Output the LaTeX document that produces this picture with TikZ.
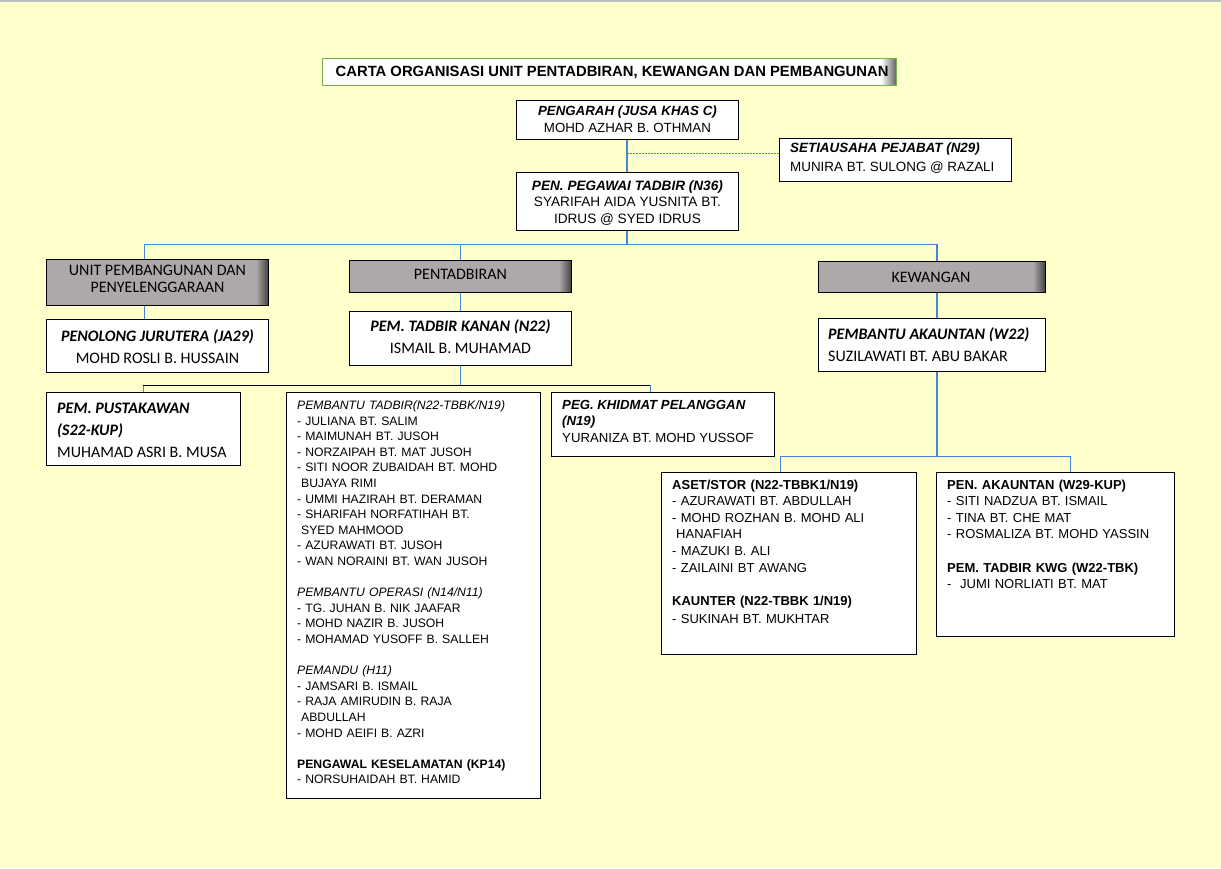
\documentclass[tikz,border=0pt]{standalone}
\usepackage{fontspec}
\setmainfont{Liberation Sans}
\newfontfamily\calibfont{Carlito}
\usetikzlibrary{calc}
\usetikzlibrary{positioning}

\definecolor{bgyellow}{RGB}{255,255,204}
\definecolor{linkblue}{RGB}{70,132,212}
\definecolor{unitgray}{RGB}{173,169,168}
\definecolor{titlegreen}{RGB}{118,178,72}

\tikzset{
 box/.style={draw=black, fill=white, line width=0.9pt, inner sep=0pt, anchor=north west},
 unitbox/.style={box, fill=unitgray,
   path picture={\foreach \i [evaluate=\i as \p using 100-\i*5] in {0,...,11}
     \fill[unitgray!\p!black] ([xshift=(\i-12)*1pt]path picture bounding box.north east)
       rectangle ([xshift=(\i-11)*1pt]path picture bounding box.south east);}},
 titlebox/.style={box, draw=titlegreen, line width=1.2pt,
   path picture={\foreach \i [evaluate=\i as \p using 100-\i*4] in {0,...,15}
     \fill[white!\p!black] ([xshift=(\i-16)*1pt]path picture bounding box.north east)
       rectangle ([xshift=(\i-15)*1pt]path picture bounding box.south east);}},
 link/.style={draw=linkblue, line width=1.2pt},
 dotlink/.style={draw=linkblue, line width=1pt, dash pattern=on 2pt off 1pt},
 bus/.style={draw=black, line width=1pt},
 txt/.style={inner sep=0pt, font=\fontsize{13.3}{17}\selectfont},
 caltxt/.style={inner sep=0pt, font=\calibfont\fontsize{16}{22}\selectfont},
}

\begin{document}
\begin{tikzpicture}[x=1pt, y=-1pt]
\useasboundingbox (0,0) rectangle (1221,868);
\fill[bgyellow] (0,0) rectangle (1221,868);
\draw[black!25, line width=1.5pt] (0,0.75) -- (1221,0.75);

% title
\node[titlebox, minimum width=574pt, minimum height=27pt] (title) at (322,58) {};
\node[txt, font=\bfseries\fontsize{14.8}{17}\selectfont] (titleT) at ([xshift=2.5pt]title.center)
  {CARTA ORGANISASI UNIT PENTADBIRAN, KEWANGAN DAN PEMBANGUNAN};

% top of the chart
\node[box, minimum width=222pt, minimum height=39pt] (pengarah) at (516,100) {};
\node[txt, anchor=north, align=center] (pengarahT) at ([yshift=-6pt]pengarah.north)
  {{\bfseries\itshape PENGARAH (JUSA KHAS C)}\\MOHD AZHAR B. OTHMAN};

\node[box, minimum width=232pt, minimum height=43pt] (setiausaha) at (779,138) {};
\node[txt, anchor=north west, align=left, font=\fontsize{13.4}{19}\selectfont] (setiausahaT)
  at ([xshift=11pt, yshift=-5pt]setiausaha.north west)
  {{\bfseries\itshape SETIAUSAHA PEJABAT (N29)}\\MUNIRA BT. SULONG @ RAZALI};

\node[box, minimum width=222pt, minimum height=58pt] (penpegawai) at (516,172) {};
\node[txt, anchor=north, align=center, font=\fontsize{13.6}{16.5}\selectfont] (penpegawaiT)
  at ([yshift=-8pt]penpegawai.north)
  {{\bfseries\itshape PEN. PEGAWAI TADBIR (N36)}\\SYARIFAH AIDA YUSNITA BT.\\IDRUS @ SYED IDRUS};

% units
\node[unitbox, minimum width=222pt, minimum height=46pt] (unitpb) at (46,259) {};
\node[caltxt, align=center, font=\calibfont\fontsize{16}{17}\selectfont] (unitpbT)
  at ([yshift=3.5pt]unitpb.center) {UNIT PEMBANGUNAN DAN\\PENYELENGGARAAN};
\node[unitbox, minimum width=222pt, minimum height=32pt] (pentad) at (349,260) {};
\node[caltxt] (pentadT) at ([yshift=2.5pt]pentad.center) {PENTADBIRAN};
\node[unitbox, minimum width=227pt, minimum height=31pt] (kewangan) at (818,261) {};
\node[caltxt] (kewanganT) at ([xshift=-1pt]kewangan.center) {KEWANGAN};

% second level
\node[box, minimum width=222pt, minimum height=53pt] (penolong) at (46,319) {};
\node[caltxt, align=center] (penolongT) at ([yshift=-0.5pt]penolong.center)
  {{\bfseries\itshape PENOLONG JURUTERA (JA29)}\\MOHD ROSLI B. HUSSAIN};
\node[box, minimum width=222pt, minimum height=54pt] (kanan) at (349,311) {};
\node[caltxt, align=center] (kananT) at ([yshift=1.5pt]kanan.center)
  {{\bfseries\itshape PEM. TADBIR KANAN (N22)}\\ISMAIL B. MUHAMAD};
\node[box, minimum width=227pt, minimum height=53pt] (akaun) at (818,318) {};
\node[caltxt, align=left, anchor=west] (akaunT) at ([xshift=10pt, yshift=0.5pt]akaun.west)
  {{\bfseries\itshape PEMBANTU AKAUNTAN (W22)}\\SUZILAWATI BT. ABU BAKAR};

% pentadbiran staff
\node[box, minimum width=194pt, minimum height=73pt] (pustaka) at (46,392) {};
\node[caltxt, align=left, anchor=west] (pustakaT) at ([xshift=11pt, yshift=-1.5pt]pustaka.west)
  {{\bfseries\itshape PEM. PUSTAKAWAN}\\{\bfseries\itshape (S22-KUP)}\\MUHAMAD ASRI B. MUSA};

\node[box, minimum width=254pt, minimum height=406pt] (tadbir) at (286,392) {};
\node[txt, anchor=north west, align=left, text width=240pt, font=\fontsize{12.2}{15.6}\selectfont] (tadbirT)
  at ([xshift=11pt, yshift=-8.5pt]tadbir.north west)
  {{\itshape PEMBANTU TADBIR(N22-TBBK/N19)}\\
   - JULIANA BT. SALIM\\
   - MAIMUNAH BT. JUSOH\\
   - NORZAIPAH BT. MAT JUSOH\\
   - SITI NOOR ZUBAIDAH BT. MOHD\\
   \hspace*{4pt}BUJAYA RIMI\\
   - UMMI HAZIRAH BT. DERAMAN\\
   - SHARIFAH NORFATIHAH BT.\\
   \hspace*{4pt}SYED MAHMOOD\\
   - AZURAWATI BT. JUSOH\\
   - WAN NORAINI BT. WAN JUSOH\\[15.6pt]
   {\itshape PEMBANTU OPERASI (N14/N11)}\\
   - TG. JUHAN B. NIK JAAFAR\\
   - MOHD NAZIR B. JUSOH\\
   - MOHAMAD YUSOFF B. SALLEH\\[15.6pt]
   {\itshape PEMANDU (H11)}\\
   - JAMSARI B. ISMAIL\\
   - RAJA AMIRUDIN B. RAJA\\
   \hspace*{4pt}ABDULLAH\\
   - MOHD AEIFI B. AZRI\\[15.6pt]
   {\bfseries PENGAWAL KESELAMATAN (KP14)}\\
   - NORSUHAIDAH BT. HAMID};

\node[box, minimum width=223pt, minimum height=64pt] (khidmat) at (551,392) {};
\node[txt, anchor=north west, align=left, font=\fontsize{13.2}{16.5}\selectfont] (khidmatT)
  at ([xshift=11pt, yshift=-8pt]khidmat.north west)
  {{\bfseries\itshape PEG. KHIDMAT PELANGGAN}\\{\bfseries\itshape (N19)}\\YURANIZA BT. MOHD YUSSOF};

% kewangan staff
\node[box, minimum width=255pt, minimum height=182pt] (aset) at (661,472) {};
\node[txt, anchor=north west, align=left, text width=240pt, font=\fontsize{13}{16.6}\selectfont] (asetT)
  at ([xshift=11pt, yshift=-7.5pt]aset.north west)
  {{\bfseries ASET/STOR (N22-TBBK1/N19)}\\
   - AZURAWATI BT. ABDULLAH\\
   - MOHD ROZHAN B. MOHD ALI\\
   \hspace*{4pt}HANAFIAH\\
   - MAZUKI B. ALI\\
   - ZAILAINI BT AWANG\\[16.6pt]
   {\bfseries KAUNTER (N22-TBBK 1/N19)}\\[2pt]
   - SUKINAH BT. MUKHTAR};

\node[box, minimum width=238pt, minimum height=164pt] (penakaun) at (936,472) {};
\node[txt, anchor=north west, align=left, text width=225pt, font=\fontsize{13}{16.6}\selectfont] (penakaunT)
  at ([xshift=11pt, yshift=-7.5pt]penakaun.north west)
  {{\bfseries PEN. AKAUNTAN (W29-KUP)}\\
   - SITI NADZUA BT. ISMAIL\\
   - TINA BT. CHE MAT\\
   - ROSMALIZA BT. MOHD YASSIN\\[16.6pt]
   {\bfseries PEM. TADBIR KWG (W22-TBK)}\\
   -~ JUMI NORLIATI BT. MAT};

% connectors
\coordinate (trunk) at ([xshift=-0.5pt]pengarah.south);
\draw[link] (trunk) -- (trunk |- penpegawai.north);
\coordinate (sj) at ([yshift=6pt]setiausaha.west);
\draw[dotlink] (sj) -- (sj -| trunk);

\coordinate (topbus) at ([xshift=-0.5pt, yshift=-13.5pt]penpegawai.south);
\coordinate (unitdrop) at ([xshift=-13pt]unitpb.north);
\coordinate (kewdrop) at ([xshift=5pt]kewangan.north);
\draw[link] (trunk |- penpegawai.south) -- (topbus);
\draw[link] (unitdrop) |- (topbus) -| (kewdrop);
\draw[link] (pentad.north) -- (pentad.north |- topbus);

\draw[link] (unitpb.south -| unitdrop) -- (penolong.north -| unitdrop);
\draw[link] (pentad.south) -- (kanan.north);
\draw[link] (kewangan.south -| kewdrop) -- (akaun.north -| kewdrop);

\coordinate (midbus) at ([yshift=-19.5pt]kanan.south);
\coordinate (khiddrop) at ([xshift=-12.5pt]khidmat.north);
\draw[link] (kanan.south) -- (midbus);
\draw[link] (pustaka.north) -- (pustaka.north |- midbus);
\draw[link] (khiddrop) -- (khiddrop |- midbus);
\draw[bus] (pustaka.north |- midbus) -- (khiddrop |- midbus);

\coordinate (asetdrop) at ([xshift=-8.5pt]aset.north);
\coordinate (penakdrop) at ([xshift=15pt]penakaun.north);
\draw[link] (akaun.south -| kewdrop) -- ++(0,84.5) coordinate (rightbus);
\draw[link] (asetdrop) |- (rightbus) -| (penakdrop);
\end{tikzpicture}
\end{document}
